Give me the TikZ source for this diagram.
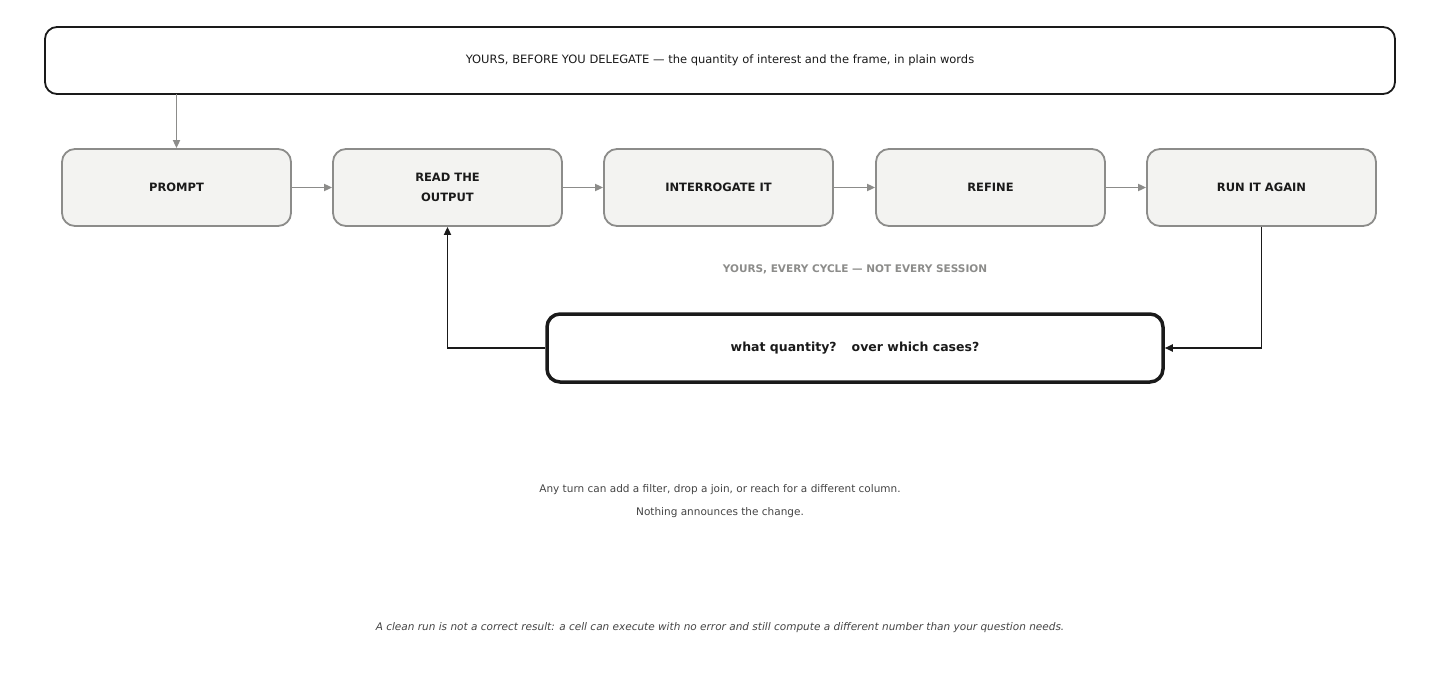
\documentclass[tikz,border=0pt]{standalone}
\usepackage{fontspec}
\setmainfont{DejaVu Sans}
\usetikzlibrary{arrows.meta}
\definecolor{bx}{HTML}{F3F3F1}
\definecolor{gr}{HTML}{8C8C8A}
\definecolor{dk}{HTML}{1A1A1A}
\definecolor{tx}{HTML}{444444}
\begin{document}
\begin{tikzpicture}[x=1pt,y=-1pt,
 stepbox/.style={draw=gr,line width=1.8pt,fill=bx,rounded corners=13pt,minimum width=229pt,minimum height=77pt,align=center,font=\fontsize{11.5}{20}\selectfont\bfseries,text=dk},
 ga/.style={draw=gr,line width=1.8pt,-{Triangle[length=8pt,width=7pt]}},
 ba/.style={draw=dk,line width=1.8pt,-{Triangle[length=8pt,width=7pt]}}]
\useasboundingbox (0,0) rectangle (1440,690);
\node[draw=dk,line width=1.8pt,rounded corners=12pt,minimum width=1350pt,minimum height=67pt,font=\fontsize{11.5}{14}\selectfont,text=dk] (top) at (720,60.5) {YOURS, BEFORE YOU DELEGATE — the quantity of interest and the frame, in plain words};
\node[stepbox] (p) at (176.5,187.5) {PROMPT};
\node[stepbox] (r) at (447.5,187.5) {READ THE\\OUTPUT};
\node[stepbox] (i) at (718.5,187.5) {INTERROGATE IT};
\node[stepbox] (f) at (990.5,187.5) {REFINE};
\node[stepbox] (a) at (1261.5,187.5) {RUN IT AGAIN};
\coordinate (t1) at (176.5,94);
\draw[ga] (t1) -- (p.north);
\draw[ga] (p) -- (r); \draw[ga] (r) -- (i); \draw[ga] (i) -- (f); \draw[ga] (f) -- (a);
\node[font=\fontsize{10.5}{12}\selectfont\bfseries,text=gr] (lbl) at (855,269) {YOURS, EVERY CYCLE — NOT EVERY SESSION};
\node[draw=dk,line width=3.5pt,rounded corners=13pt,minimum width=616pt,minimum height=68pt,font=\fontsize{12.5}{14}\selectfont\bfseries,text=dk] (q) at (855,348) {what quantity?\hspace{1.2em}over which cases?};
\draw[ba] (a.south) |- (q.east);
\draw[ba] (q.west) -| (r.south);
\node[font=\fontsize{10.5}{23}\selectfont,text=tx,align=center] (n1) at (720,501.5) {Any turn can add a filter, drop a join, or reach for a different column.\\Nothing announces the change.};
\node[font=\fontsize{10.5}{12}\selectfont\itshape,text=tx] (n2) at (720,628) {A clean run is not a correct result: a cell can execute with no error and still compute a different number than your question needs.};
\end{tikzpicture}
\end{document}
